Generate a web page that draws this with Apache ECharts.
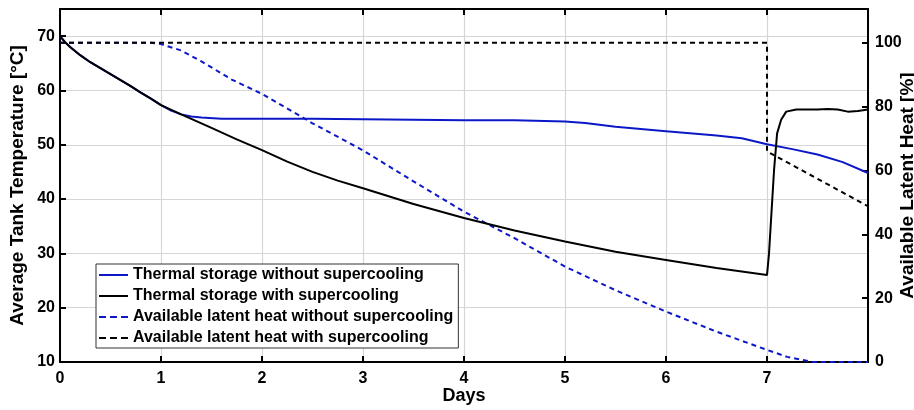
<!DOCTYPE html>
<html>
<head>
<meta charset="utf-8">
<script src="https://cdn.jsdelivr.net/npm/echarts@6/dist/echarts.min.js"></script>
<style>
  html, body { margin: 0; padding: 0; background: #fff; }
  #chart { width: 914px; height: 410px; }
</style>
</head>
<body>
<div id="chart"></div>
<script>
// tank temperature, with supercooling [°C]
var daysWith = [0, 0.05, 0.1, 0.2, 0.3, 0.4, 0.5, 0.6, 0.7, 0.8, 0.9, 1.0, 1.2, 1.5, 1.75, 2.0, 2.25, 2.5, 2.75, 3.0, 3.5, 4.0, 4.5, 5.0, 5.5, 6.0, 6.5, 7.0, 7.02, 7.04, 7.07, 7.1, 7.14, 7.19, 7.29, 7.4, 7.5, 7.6, 7.7, 7.8, 7.9, 8.0]
var tempWith = [70, 68.9, 68.0, 66.5, 65.2, 64.1, 63.0, 61.9, 60.8, 59.6, 58.5, 57.3, 55.6, 53.1, 51.0, 49.0, 46.9, 45.0, 43.4, 42.0, 39.1, 36.5, 34.2, 32.2, 30.3, 28.8, 27.3, 26.0, 30.0, 36.2, 45.4, 52.1, 54.6, 56.1, 56.5, 56.5, 56.5, 56.6, 56.5, 56.1, 56.2, 56.5]

// tank temperature, without supercooling [°C]
var daysWithout = [0, 0.05, 0.1, 0.2, 0.3, 0.4, 0.5, 0.6, 0.7, 0.8, 0.9, 1.0, 1.1, 1.2, 1.3, 1.4, 1.6, 2.0, 2.5, 3.0, 3.5, 4.0, 4.5, 5.0, 5.2, 5.5, 6.0, 6.5, 6.75, 7.0, 7.25, 7.5, 7.75, 8.0]
var tempWithout = [70, 68.9, 68.0, 66.5, 65.2, 64.1, 63.0, 61.9, 60.8, 59.6, 58.5, 57.3, 56.3, 55.6, 55.2, 55.0, 54.8, 54.8, 54.8, 54.7, 54.6, 54.5, 54.5, 54.3, 54.0, 53.3, 52.5, 51.7, 51.2, 50.1, 49.2, 48.2, 46.8, 44.8]

// available latent heat, without supercooling [%]
var daysLatentWithout = [0, 0.9, 1.0, 1.2, 1.4, 1.7, 2.0, 2.5, 3.0, 3.5, 4.0, 4.5, 5.0, 5.5, 6.0, 6.5, 7.0, 7.2, 7.45, 8.0]
var latentWithout = [100, 100, 99.6, 97.6, 94.2, 88.5, 84.0, 74.8, 66.3, 56.6, 47.1, 38.8, 29.9, 22.5, 15.8, 9.5, 3.8, 1.6, 0, 0]

// available latent heat, with supercooling [%]
var daysLatentWith = [0, 7.0, 7.0, 8.0]
var latentWith = [100, 100, 66.0, 48.8]

var xTicks = [0, 1, 2, 3, 4, 5, 6, 7]

var seriesNames = [
  'Thermal storage without supercooling',
  'Thermal storage with supercooling',
  'Available latent heat without supercooling',
  'Available latent heat with supercooling'
]

function pairs (xs, ys) {
  return xs.map(function (x, i) { return [x, ys[i]] })
}

var chart = echarts.init(document.getElementById('chart'))
var font = 'Liberation Sans, Arial, sans-serif'
var blue = '#0c18c8'

// legend samples: a solid bar and a dashed bar, 29px wide
var solidIcon = 'path://M0,0h29v2h-29z'
var dashIcon = 'path://M0,0h7v2h-7zM11,0h7v2h-7zM22,0h7v2h-7z'

var labelStyle = { color: '#000', fontFamily: font, fontWeight: 'bold', fontSize: 16 }
var nameStyle = { color: '#000', fontFamily: font, fontWeight: 'bold', fontSize: 19 }
var axisLine = { show: true, onZero: false, lineStyle: { color: '#000', width: 2 } }
var tick = { show: true, inside: true, length: 6, lineStyle: { color: '#000', width: 2 } }
var grid = { show: true, lineStyle: { color: '#d6d6d6', width: 1.2 } }

var option = {
  animation: false,
  backgroundColor: '#fff',
  grid: { left: 60, right: 46, top: 9, bottom: 48, outerBoundsMode: 'none', containLabel: false },
  legend: {
    orient: 'vertical',
    left: 96,
    top: 264,
    padding: [3, 5, 2, 3],
    itemWidth: 29,
    itemHeight: 16,
    itemGap: 5,
    backgroundColor: '#fff',
    borderColor: '#333',
    borderWidth: 1,
    borderRadius: 0,
    textStyle: { color: '#000', fontFamily: font, fontWeight: 'bold', fontSize: 16 },
    data: [
      { name: seriesNames[0], icon: solidIcon },
      { name: seriesNames[1], icon: solidIcon },
      { name: seriesNames[2], icon: dashIcon },
      { name: seriesNames[3], icon: dashIcon }
    ]
  },
  xAxis: [
    {
      type: 'value', min: 0, max: 8, interval: 1,
      name: 'Days', nameLocation: 'middle', nameGap: 25, nameMoveOverlap: false,
      nameTextStyle: { color: '#000', fontFamily: font, fontWeight: 'bold', fontSize: 18 },
      axisLine: axisLine, axisTick: tick, splitLine: grid,
      axisLabel: {
        showMaxLabel: false, margin: 9, color: '#000', fontFamily: font, fontWeight: 'bold', fontSize: 16,
        formatter: function (v) { return xTicks.indexOf(v) >= 0 ? String(v) : '' }
      }
    },
    {
      type: 'value', position: 'top', min: 0, max: 8, interval: 1,
      axisLine: axisLine, axisTick: tick, splitLine: { show: false }, axisLabel: { show: false }
    }
  ],
  yAxis: [
    {
      type: 'value', min: 10, max: 75, interval: 10, position: 'left',
      name: 'Average Tank Temperature [°C]', nameLocation: 'middle', nameGap: 33, nameMoveOverlap: false,
      nameTextStyle: nameStyle,
      axisLine: axisLine, axisTick: tick, splitLine: grid,
      axisLabel: Object.assign({ showMaxLabel: false, margin: 5 }, labelStyle)
    },
    {
      type: 'value', min: 0, max: 110.6, interval: 20, position: 'right',
      name: 'Available Latent Heat [%]', nameLocation: 'middle', nameGap: 30, nameMoveOverlap: false,
      nameTextStyle: nameStyle,
      axisLine: axisLine, axisTick: tick, splitLine: { show: false },
      axisLabel: Object.assign({ showMaxLabel: false, margin: 7 }, labelStyle)
    }
  ],
  series: [
    {
      name: seriesNames[0], type: 'line', yAxisIndex: 0, showSymbol: false, symbol: 'none',
      lineStyle: { color: blue, width: 2 }, itemStyle: { color: blue },
      data: pairs(daysWithout, tempWithout), z: 3
    },
    {
      name: seriesNames[1], type: 'line', yAxisIndex: 0, showSymbol: false, symbol: 'none',
      lineStyle: { color: '#000', width: 2 }, itemStyle: { color: '#000' },
      data: pairs(daysWith, tempWith), z: 4
    },
    {
      name: seriesNames[2], type: 'line', yAxisIndex: 1, showSymbol: false, symbol: 'none',
      lineStyle: { color: blue, width: 2, type: [5, 4] }, itemStyle: { color: blue },
      data: pairs(daysLatentWithout, latentWithout), z: 2
    },
    {
      name: seriesNames[3], type: 'line', yAxisIndex: 1, showSymbol: false, symbol: 'none',
      lineStyle: { color: '#000', width: 2, type: [5, 4] }, itemStyle: { color: '#000' },
      data: pairs(daysLatentWith, latentWith), z: 5
    }
  ]
}

chart.setOption(option)
</script>
</body>
</html>
